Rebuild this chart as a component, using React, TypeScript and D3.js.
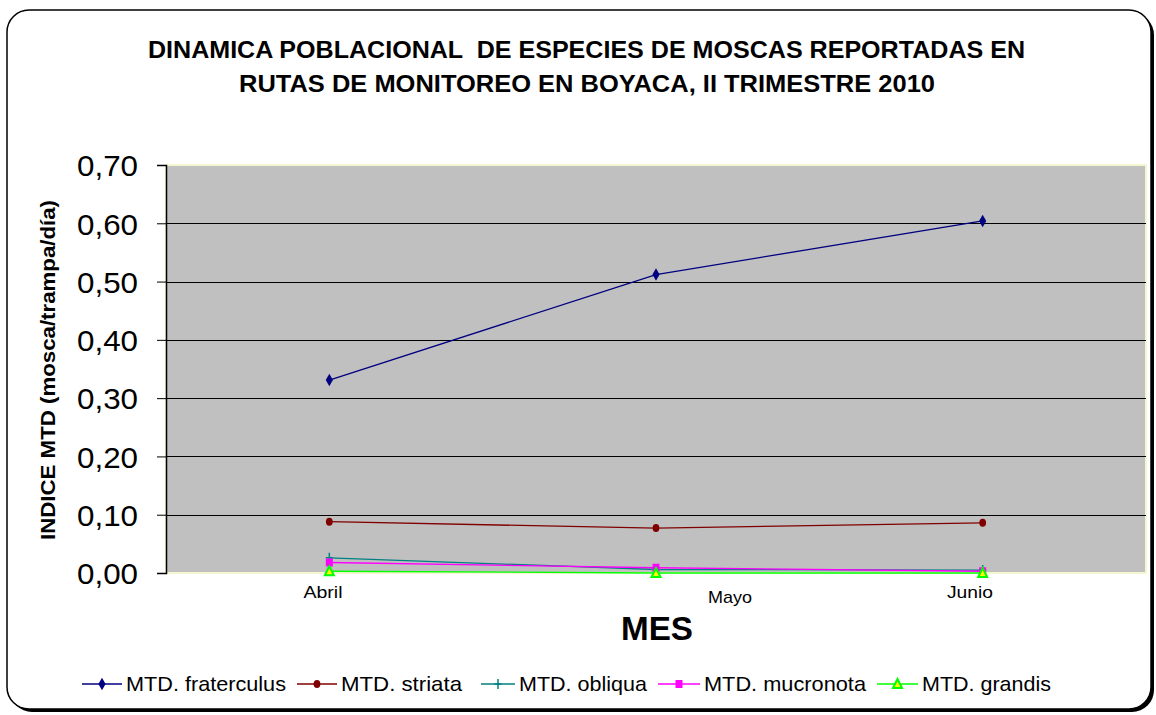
import React, { useEffect, useRef } from 'react';
import * as d3 from 'd3';

const months = ['Abril', 'Mayo', 'Junio'];
const yTicks = [0, 0.1, 0.2, 0.3, 0.4, 0.5, 0.6, 0.7];

const fraterculus = [0.331, 0.512, 0.604];
const striata = [0.088, 0.077, 0.086];
const obliqua = [0.026, 0.006, 0.005];
const mucronota = [0.018, 0.009, 0.003];
const grandis = [0.003, 0.0, 0.0];

const seriesNames = ['MTD. fraterculus', 'MTD. striata', 'MTD. obliqua', 'MTD. mucronota', 'MTD. grandis'];
const seriesColors = ['#000080', '#800000', '#008080', '#FF00FF', '#00FF00'];
const seriesMarkers = ['diamond', 'circle', 'plus', 'square', 'triangle'];

export default function App() {
    const ref = useRef<SVGSVGElement | null>(null);

    useEffect(() => {
        if (!ref.current) return;
        const svg = d3.select(ref.current);
        svg.selectAll('*').remove();

        const font = 'Liberation Sans, Arial, sans-serif';
        const plot = { left: 166, top: 165, right: 1146, bottom: 573 };

        // outer frame with shadow
        svg.append('rect').attr('x', 10).attr('y', 13).attr('width', 1144).attr('height', 699)
            .attr('rx', 22).attr('fill', '#000');
        svg.append('rect').attr('x', 7).attr('y', 10).attr('width', 1144).attr('height', 699)
            .attr('rx', 22).attr('fill', '#fff').attr('stroke', '#000').attr('stroke-width', 1.5);

        // title (the original is drawn in a condensed bold face, so widths are fitted)
        const titleLines = [
            { text: 'DINAMICA POBLACIONAL  DE ESPECIES DE MOSCAS REPORTADAS EN', x: 148, y: 58, w: 877 },
            { text: 'RUTAS DE MONITOREO EN BOYACA, II TRIMESTRE 2010', x: 239, y: 92, w: 696 },
        ];
        titleLines.forEach(t => {
            svg.append('text').attr('x', t.x).attr('y', t.y)
                .attr('textLength', t.w).attr('lengthAdjust', 'spacingAndGlyphs')
                .style('white-space', 'pre')
                .style('font-family', font).style('font-weight', 'bold').style('font-size', '23px')
                .text(t.text);
        });

        const x = d3.scaleBand<string>().domain(months).range([plot.left, plot.right]);
        const cx = (m: string) => (x(m) as number) + x.bandwidth() / 2;
        const y = d3.scaleLinear().domain([0, 0.7]).range([plot.bottom, plot.top]);

        // plot area
        svg.append('rect').attr('x', plot.left).attr('y', plot.top)
            .attr('width', plot.right - plot.left).attr('height', plot.bottom - plot.top)
            .attr('fill', '#C0C0C0').attr('stroke', '#F5F5D0').attr('stroke-width', 2);

        // gridlines
        svg.append('g').selectAll('line').data(yTicks.filter(t => t > 0 && t < 0.7)).enter().append('line')
            .attr('x1', plot.left).attr('x2', plot.right)
            .attr('y1', d => Math.round(y(d)) + 0.5).attr('y2', d => Math.round(y(d)) + 0.5)
            .attr('stroke', '#000').attr('stroke-width', 1);

        // y axis
        const yAxis = svg.append('g').attr('transform', `translate(${plot.left},0)`)
            .call(d3.axisLeft(y).tickValues(yTicks).tickSize(9).tickPadding(19)
                .tickFormat(d => d3.format('.2f')(d as number).replace('.', ',')));
        yAxis.select('.domain').attr('stroke', '#000').attr('stroke-width', 1.5);
        yAxis.selectAll('.tick line').attr('stroke', '#000');
        yAxis.selectAll('text').style('font-family', font).style('font-size', '30px').attr('fill', '#000')
            .attr('textLength', 61).attr('lengthAdjust', 'spacingAndGlyphs')
            .attr('dy', '0.36em');

        // x labels (staggered as in the original)
        const xLabelX = [323, 730, 970];
        const xLabelY = [598, 603, 598];
        const xLabelW = [39, 44, 46];
        svg.append('g').selectAll('text').data(months).enter().append('text')
            .attr('x', (d, i) => xLabelX[i] - xLabelW[i] / 2)
            .attr('y', (d, i) => xLabelY[i])
            .attr('textLength', (d, i) => xLabelW[i]).attr('lengthAdjust', 'spacingAndGlyphs')
            .style('font-family', font).style('font-size', '17px').text(d => d);

        svg.append('text').attr('x', 621).attr('y', 640)
            .attr('textLength', 72).attr('lengthAdjust', 'spacingAndGlyphs')
            .style('font-family', font).style('font-weight', 'bold').style('font-size', '33px')
            .text('MES');

        svg.append('text').attr('transform', `translate(55,540) rotate(-90)`)
            .attr('textLength', 340).attr('lengthAdjust', 'spacingAndGlyphs')
            .style('font-family', font).style('font-weight', 'bold').style('font-size', '20px')
            .text('INDICE MTD (mosca/trampa/día)');

        const data = [fraterculus, striata, obliqua, mucronota, grandis];
        const line = d3.line<number>().x((_, i) => cx(months[i])).y(d => y(d));

        const drawMarker = (g: any, kind: string, color: string, px: number, py: number) => {
            if (kind === 'diamond') {
                g.append('path').attr('d', d3.symbol(d3.symbolDiamond, 45)())
                    .attr('transform', `translate(${px},${py})`).attr('fill', color);
            } else if (kind === 'circle') {
                g.append('ellipse').attr('cx', px).attr('cy', py).attr('rx', 3.4).attr('ry', 4).attr('fill', color);
            } else if (kind === 'plus') {
                g.append('path').attr('d', `M${px - 3.5},${py}H${px + 3.5}M${px},${py - 5}V${py + 5}`)
                    .attr('stroke', color).attr('stroke-width', 1.5);
            } else if (kind === 'square') {
                g.append('rect').attr('x', px - 3.5).attr('y', py - 4).attr('width', 7).attr('height', 8).attr('fill', color);
            } else {
                g.append('path').attr('d', `M${px},${py - 5}L${px + 4.5},${py + 4}L${px - 4.5},${py + 4}Z`)
                    .attr('fill', '#FFFF00').attr('stroke', color).attr('stroke-width', 2);
            }
        };

        data.forEach((vals, si) => {
            const g = svg.append('g');
            g.append('path').datum(vals).attr('d', line).attr('fill', 'none')
                .attr('stroke', seriesColors[si]).attr('stroke-width', 1.3);
            vals.forEach((v, i) => drawMarker(g, seriesMarkers[si], seriesColors[si], cx(months[i]), y(v)));
        });

        // legend
        const legendX = [82, 297, 481, 658, 877];
        const legendW = [40, 40, 34, 42, 41];
        const textW = [160, 121, 128, 162, 129];
        const ly = 684;
        seriesNames.forEach((name, i) => {
            const g = svg.append('g');
            g.append('line').attr('x1', legendX[i]).attr('x2', legendX[i] + legendW[i]).attr('y1', ly).attr('y2', ly)
                .attr('stroke', seriesColors[i]).attr('stroke-width', 1.3);
            drawMarker(g, seriesMarkers[i], seriesColors[i], legendX[i] + legendW[i] / 2, ly);
            g.append('text').attr('x', legendX[i] + legendW[i] + 4).attr('y', ly + 7)
                .attr('textLength', textW[i]).attr('lengthAdjust', 'spacingAndGlyphs')
                .style('font-family', font).style('font-size', '21px').text(name);
        });
    }, []);

    return (
        <svg ref={ref} width={1156} height={715} style={{ position: 'absolute', left: 0, top: 0, background: '#fff' }} />
    );
}
